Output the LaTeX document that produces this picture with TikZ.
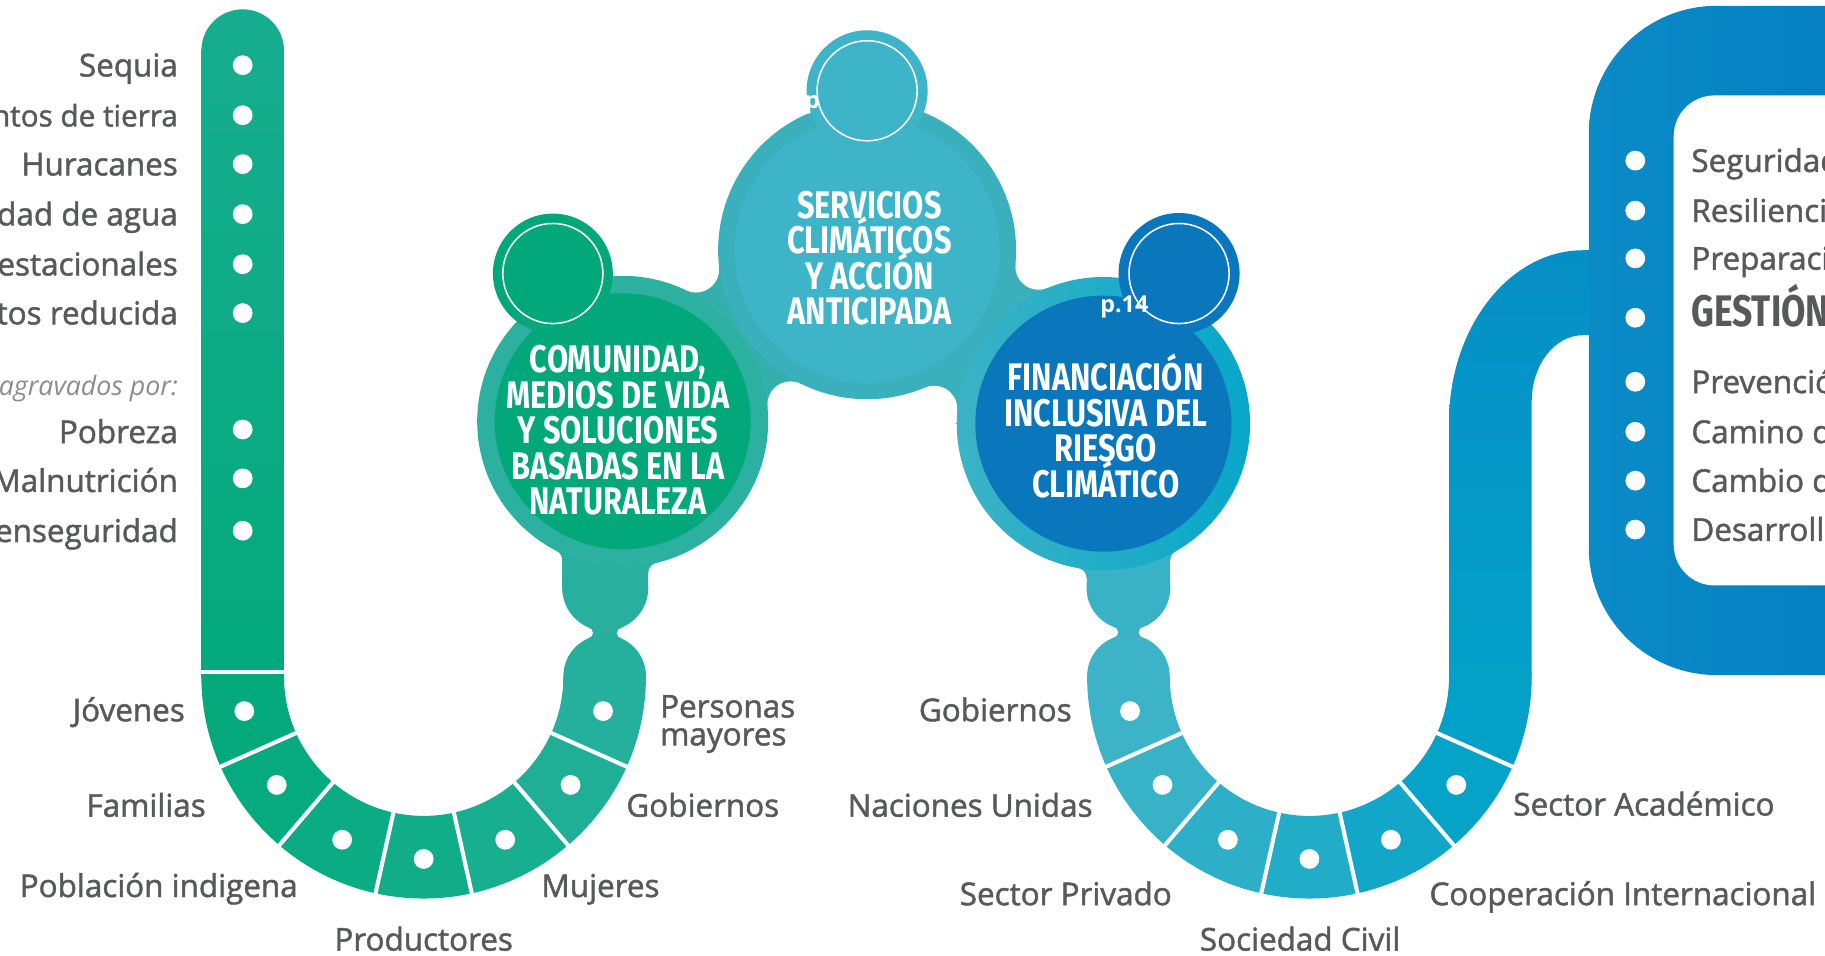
\documentclass[tikz,border=0pt]{standalone}
\usepackage{fontspec}
\usetikzlibrary{intersections}
\setmainfont{Open Sans}
\newfontfamily\lab[FakeBold=1.5]{Open Sans}
\newfontfamily\labit{Open Sans}
\newfontfamily\disp[FakeStretch=0.8]{Fira Sans}
\newcommand\tightlines{\lineskiplimit=-100pt\relax\lineskip=0pt\relax}
\definecolor{txt}{HTML}{58595B}
\definecolor{txtlight}{HTML}{8C8C8C}
\definecolor{gbar}{HTML}{03A97B}
\definecolor{gbarTop}{HTML}{16AD8E}
\definecolor{Lone}{HTML}{04A97B}
\definecolor{Ltwo}{HTML}{06AA7F}
\definecolor{Lthree}{HTML}{0BAB84}
\definecolor{Lfour}{HTML}{11AD89}
\definecolor{Lfive}{HTML}{18AE90}
\definecolor{Lsix}{HTML}{1EAF96}
\definecolor{Lseven}{HTML}{24B09C}
\definecolor{blobL}{HTML}{28AF9E}
\definecolor{ringC}{HTML}{2CB0A0}
\definecolor{innerC}{HTML}{03A87A}
\definecolor{ringS}{HTML}{3AB0BC}
\definecolor{innerS}{HTML}{3DB4C7}
\definecolor{ringFa}{HTML}{3BB3C5}
\definecolor{ringFb}{HTML}{07A7CA}
\definecolor{innerF}{HTML}{0A77BD}
\definecolor{bridgeCS}{HTML}{33B0AE}
\definecolor{Rone}{HTML}{3CB3C7}
\definecolor{Rtwo}{HTML}{38B2C7}
\definecolor{Rthree}{HTML}{2DAFC7}
\definecolor{Rfour}{HTML}{21ACC8}
\definecolor{Rfive}{HTML}{12A7C8}
\definecolor{Rsix}{HTML}{06A3C8}
\definecolor{Rseven}{HTML}{03A0C8}
\definecolor{blobR}{HTML}{3AB2C6}
\definecolor{armTop}{HTML}{068FC6}
\definecolor{frameL}{HTML}{0A8BC6}
\definecolor{frameR}{HTML}{0079BE}

\newcommand\segm[6]{%
  \pgfmathsetmacro\midang{(#2+#3)/2}%
  \begin{scope}
    \clip ([shift={#1}]0:0) -- ([shift={#1}]#2:400) -- ([shift={#1}]\midang:400) -- ([shift={#1}]#3:400) -- cycle;
    \fill[#6, even odd rule] #1 circle (#5) #1 circle (#4);
  \end{scope}}
\newcommand\sepline[2]{%
  \draw[white, line width=3.5pt] ([shift={#1}]#2:116) -- ([shift={#1}]#2:195);}
% bridge between two circles with concave fillets (fillet discs are white background)
\newcommand\fillet[6]{%
  \path[name path=fa] #1 circle (#2+#5);
  \path[name path=fb] #3 circle (#4+#5);
  \path[name intersections={of=fa and fb, name=fi}];
  \fill[#6] #1 -- (fi-1) -- #3 -- (fi-2) -- cycle;
  \fill[white] (fi-1) circle (#5) (fi-2) circle (#5);}

\tikzset{
  lab/.style={font=\lab\fontsize{27}{27}\selectfont, text=txt, inner sep=0pt},
  labE/.style={lab, anchor=mid east},
  labW/.style={lab, anchor=mid west},
  labC/.style={lab, anchor=mid},
  disptext/.style={font=\disp\bfseries\fontsize{33}{30.5}\selectfont\tightlines, text=white, align=center, inner sep=0pt},
  ringline/.style={draw=white, line width=1.3pt},
  pagetext/.style={font=\labit\bfseries\fontsize{20}{20}\selectfont, text=white, inner sep=0pt},
}

\begin{document}
\begin{tikzpicture}[x={(1pt,0pt)}, y={(0pt,-1pt)}]
\useasboundingbox (0,0) rectangle (1568,821);
\clip (0,0) rectangle (1568,821);

% ===== left green bar =====
\shade[top color=gbarTop, bottom color=gbar] (173,43.5) rectangle (244,582);
\fill[gbarTop] (208.5,43.5) circle (35.5);

% ===== left U =====
\segm{(364,581)}{156}{182}{120}{191}{Lone}
\segm{(364,581)}{130.5}{156}{120}{191}{Ltwo}
\segm{(364,581)}{102.5}{130.5}{120}{191}{Lthree}
\segm{(364,581)}{77.5}{102.5}{120}{191}{Lfour}
\segm{(364,581)}{49.5}{77.5}{120}{191}{Lfive}
\segm{(364,581)}{24}{49.5}{120}{191}{Lsix}
\segm{(364,581)}{0}{24}{120}{191}{Lseven}
\draw[white, line width=3.5pt] (170,577) -- (247,577);
\foreach \a in {156,130.5,102.5,77.5,49.5,24} {\sepline{(364,581)}{\a}}

% ===== right U =====
\segm{(1125,581)}{156}{180}{120}{191}{Rone}
\segm{(1125,581)}{130.5}{156}{120}{191}{Rtwo}
\segm{(1125,581)}{102.5}{130.5}{120}{191}{Rthree}
\segm{(1125,581)}{77.5}{102.5}{120}{191}{Rfour}
\segm{(1125,581)}{49.5}{77.5}{120}{191}{Rfive}
\segm{(1125,581)}{24}{49.5}{120}{191}{Rsix}
\segm{(1125,581)}{-1}{24}{120}{191}{Rseven}
% right arm up into the frame
\shade[top color=armTop, bottom color=Rseven]
  (1245,582) -- (1245,362) .. controls (1245,282) and (1296.5,215) .. (1360,215)
  -- (1372,215) -- (1372,288) -- (1360,288)
  .. controls (1335.7,288) and (1316,313.5) .. (1316,345) -- (1316,582) -- cycle;
\foreach \a in {156,130.5,102.5,77.5,49.5,24} {\sepline{(1125,581)}{\a}}

% ===== blue frame =====
\shade[left color=frameL, right color=frameR, rounded corners=110pt] (1365,5) rectangle (1720,580);
\fill[white, rounded corners=35pt] (1438,82) rectangle (1720,503);

% ===== hanging blobs with small fillets =====
% left (under COMUNIDAD)
\fill[blobL] (484.1,473.3) -- (495,465) -- (495,481.3) -- (483,481.3) -- cycle;
\fill[blobL] (563.9,483.6) -- (548,475) -- (548,492.4) -- (557,492.4) -- cycle;
\fill[white] (474,481.3) circle (9) (566,492.4) circle (9);
\fill[blobL] (478.1,473.3) -- (495,465) -- (495,481.3) -- (483,481.3) -- cycle;
\fill[white] (474,481.3) circle (9);
\fillet{(520,505)}{37}{(519.5,581)}{35.5}{4.5}{blobL}
\fill[blobL] (483,440) rectangle (557,505);
\fill[blobL] (520,505) circle (37);
\fill[Lseven] (519.5,581) circle (35.5);
% right (under FINANCIACION)
\fill[blobR] (926.1,488) -- (945,480) -- (945,496.9) -- (933.5,496.9) -- cycle;
\fill[blobR] (1010.1,473.7) -- (995,465) -- (995,481.5) -- (1005.5,481.5) -- cycle;
\fill[white] (924.5,496.9) circle (9) (1014.5,481.5) circle (9);
\fillet{(969.5,505)}{36}{(969.5,581)}{35.5}{4.5}{blobR}
\fill[blobR] (933.5,440) rectangle (1005.5,505);
\fill[blobR] (969.5,505) circle (36);
\fill[Rone] (969.5,581) circle (35.5);

\fillet{(535,362)}{125}{(745,215)}{128}{20}{bridgeCS}
\fillet{(745,215)}{128}{(948,364)}{126}{20}{ringS}

% ===== big circles =====
\fill[ringC] (535,362) circle (125);
\fill[innerC] (535,362) circle (110);
\fill[ringS] (745,215) circle (128);
\fill[innerS] (745,215) circle (114);
\shade[left color=ringFa, right color=ringFb] (948,364) circle (126);
\fill[innerF] (948,364) circle (110);

% ===== small circles =====
\fill[innerC] (475,235) circle (51.5);
\draw[ringline] (475,235) circle (43);
\fill[innerS] (745,78) circle (52);
\node[pagetext] (pfrag) at (698,90) {p};
\fill[innerS] (745,78) circle (43);
\draw[ringline] (745,78) circle (43);
\fill[innerF] (1013,235) circle (52);
\draw[ringline] (1013,235) circle (43);
\node[pagetext] (pagina) at (966,264) {p.14};

% ===== circle texts =====
\node[disptext] (comunidad) at (531,370) {COMUNIDAD,\\MEDIOS DE VIDA\\Y SOLUCIONES\\BASADAS EN LA\\NATURALEZA};
\node[disptext] (servicios) at (747,222) {SERVICIOS\\CLIMÁTICOS\\Y ACCIÓN\\ANTICIPADA};
\node[disptext] (financiacion) at (950,366) {FINANCIACIÓN\\INCLUSIVA DEL\\RIESGO\\CLIMÁTICO};

% ===== dots =====
\foreach \y in {56,99,141,184,227,269,369,411,456} {\fill[white] (208.5,\y) circle (8.5);}
\foreach \a in {169,143.5,116.5,90,63.5,36.5,11} {\fill[white] ([shift={(364,581)}]\a:157) circle (8.5);}
\foreach \a in {169,143.5,116.5,90,63.5,36.5} {\fill[white] ([shift={(1125,581)}]\a:157) circle (8.5);}
\foreach \y in {138,181,222,273,328,371,413,455} {\fill[white] (1405,\y) circle (8.5);}

% ===== left column labels =====
\node[labE] (l1) at (153,63) {Sequia};
\node[labE, font=\lab\fontsize{25.5}{25.5}\selectfont] (l2) at (153,106) {ntos de tierra};
\node[labE] (l3) at (153,148) {Huracanes};
\node[labE] (l4) at (153,191) {dad de agua};
\node[labE] (l5) at (153,234) {estacionales};
\node[labE] (l6) at (153,276) {tos reducida};
\node[anchor=mid east, inner sep=0pt, text=txtlight, font=\labit\itshape\fontsize{23}{23}\selectfont] (l7) at (153,337) {agravados por:};
\node[labE] (l8) at (153,378) {Pobreza};
\node[labE] (l9) at (153,420) {Malnutrición};
\node[labE] (l10) at (153,463) {enseguridad};

% ===== left U labels =====
\node[labE] (jov) at (159,617) {Jóvenes};
\node[labE] (fam) at (177,699) {Familias};
\node[labE] (pob) at (256,768) {Población indigena};
\node[labC] (prod) at (364,814) {Productores};
\node[labW] (muj) at (465,768) {Mujeres};
\node[labW] (gobL) at (538,699) {Gobiernos};
\node[lab, anchor=west, align=left, font=\lab\fontsize{27}{24}\selectfont] (pers) at (567,622) {Personas\\mayores};

% ===== right U labels =====
\node[labE] (gobR) at (921,617) {Gobiernos};
\node[labE] (nu) at (939,699) {Naciones Unidas};
\node[labE] (priv) at (1007,775) {Sector Privado};
\node[labC] (soc) at (1117,814) {Sociedad Civil};
\node[labW] (coop) at (1228,775) {Cooperación Internacional};
\node[labW] (acad) at (1300,698) {Sector Académico};

% ===== frame labels =====
\node[labW] (f1) at (1453,145) {Seguridad};
\node[labW] (f2) at (1453,188) {Resiliencia};
\node[labW] (f3) at (1453,229) {Preparación};
\node[anchor=mid west, inner sep=0pt, text=txt, font=\disp\bfseries\fontsize{38}{38}\selectfont] (f4) at (1453,278) {GESTIÓN};
\node[labW] (f5) at (1453,335) {Prevención};
\node[labW] (f6) at (1453,378) {Camino de};
\node[labW] (f7) at (1453,420) {Cambio de};
\node[labW] (f8) at (1453,462) {Desarrollo};
\end{tikzpicture}
\end{document}
